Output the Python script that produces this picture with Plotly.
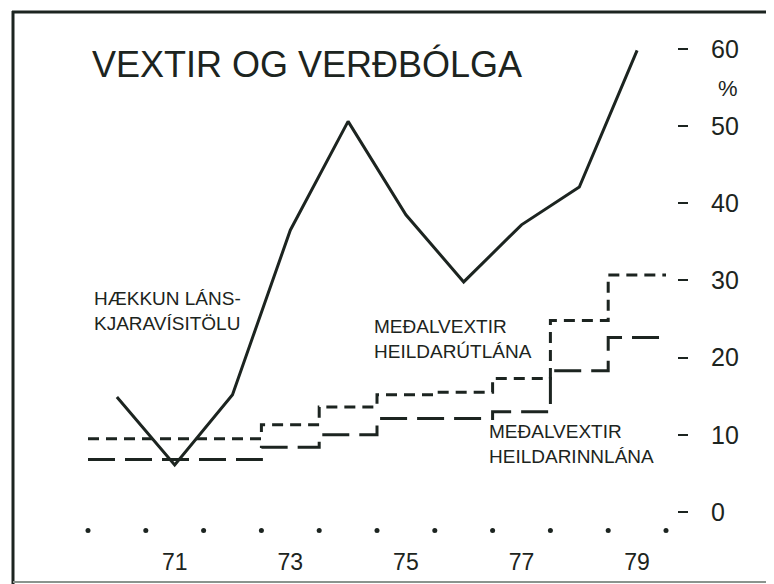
import plotly.graph_objects as go

# ---------------- data ----------------
years = [70, 71, 72, 73, 74, 75, 76, 77, 78, 79]
haekkun = [14.9, 6.1, 15.2, 36.5, 50.6, 38.5, 29.8, 37.2, 42.1, 59.8]   # Hækkun lánskjaravísitölu
utlan = [9.5, 9.5, 9.5, 11.3, 13.6, 15.2, 15.5, 17.3, 24.8, 30.7]       # Meðalvextir heildarútlána
innlan = [6.8, 6.8, 6.8, 8.4, 10.0, 12.1, 12.1, 13.0, 18.3, 22.6]       # Meðalvextir heildarinnlána
x_tick_vals = [71, 73, 75, 77, 79]
x_tick_text = ["71", "73", "75", "77", "79"]
y_tick_vals = [0, 10, 20, 30, 40, 50, 60]
y_tick_text = ["0", "10", "20", "30", "40", "50", "60"]

# ---------------- style / layout helpers ----------------
W, H = 774, 584
OFF = 8                    # page body margin that offsets the figure in the window
PLOT_BOTTOM = 540 - OFF    # figure pixel row where the plot area ends
INK = "#1c2420"
FONT = "Liberation Sans"
DOT_LEVEL = -2.4           # vertical level of the year-boundary dots

def px(x):
    """window pixel x -> paper x"""
    return (x - OFF) / W

def py(y):
    """window pixel y -> paper y"""
    return (PLOT_BOTTOM - (y - OFF)) / PLOT_BOTTOM

# year boundaries for step lines
edges = [y - 0.5 for y in years] + [years[-1] + 0.5]

fig = go.Figure()

# year boundary dots along the bottom
fig.add_trace(go.Scatter(
    x=edges, y=[DOT_LEVEL] * len(edges), mode="markers",
    marker=dict(size=5, color=INK), hoverinfo="skip", showlegend=False))

# Meðalvextir heildarútlána (short dashes)
fig.add_trace(go.Scatter(
    x=edges, y=utlan + [utlan[-1]], mode="lines", line_shape="hv",
    line=dict(color=INK, width=3, dash="11px,7px"),
    hoverinfo="skip", showlegend=False))

# Meðalvextir heildarinnlána (long dashes)
fig.add_trace(go.Scatter(
    x=edges, y=innlan + [innlan[-1]], mode="lines", line_shape="hv",
    line=dict(color=INK, width=3, dash="27px,10px"),
    hoverinfo="skip", showlegend=False))

# Hækkun lánskjaravísitölu (solid)
fig.add_trace(go.Scatter(
    x=years, y=haekkun, mode="lines",
    line=dict(color=INK, width=3),
    hoverinfo="skip", showlegend=False))

# x mapping (window px): pixel = 174.7 + (year-71)*57.8
x0 = 71 - (174.7 - OFF) / 57.8
x1 = x0 + W / 57.8
# y mapping (window px): pixel = 512 - 7.72*value
y_top = (512 - OFF) / 7.72
y_bot = (512 - OFF - PLOT_BOTTOM) / 7.72

common_y = dict(range=[y_bot, y_top], showgrid=False, zeroline=False,
                showline=False, tickmode="array", tickvals=y_tick_vals,
                fixedrange=True)

fig.update_layout(
    width=W, height=H,
    margin=dict(l=0, r=0, t=0, b=H - PLOT_BOTTOM, pad=0),
    paper_bgcolor="white", plot_bgcolor="white",
    showlegend=False, hovermode=False,
    font=dict(family=FONT, color=INK),
    xaxis=dict(
        range=[x0, x1], showgrid=False, zeroline=False, showline=False,
        tickmode="array", tickvals=x_tick_vals, ticktext=x_tick_text,
        ticks="", tickfont=dict(size=23, color=INK, family=FONT),
        ticklabelstandoff=6, fixedrange=True),
    # tick dashes
    yaxis=dict(
        **common_y, side="right", anchor="free", position=px(677),
        ticks="outside", ticklen=10, tickwidth=1.6, tickcolor=INK,
        showticklabels=False),
    # tick numbers
    yaxis2=dict(
        **common_y, side="right", anchor="free", position=px(710),
        overlaying="y", ticks="", ticktext=y_tick_text,
        tickfont=dict(size=25, color=INK, family=FONT)),
)

# invisible trace to activate the label axis
fig.add_trace(go.Scatter(x=[years[0]], y=[y_tick_vals[0]], yaxis="y2",
                         mode="markers", marker=dict(opacity=0),
                         hoverinfo="skip", showlegend=False))

# frame (scanned page border)
fig.add_shape(type="line", xref="paper", yref="paper",
              x0=px(13), x1=px(13), y0=py(11), y1=py(H + 2),
              line=dict(color=INK, width=3))
fig.add_shape(type="line", xref="paper", yref="paper",
              x0=px(12), x1=px(W + 10), y0=py(12), y1=py(12),
              line=dict(color=INK, width=3))
fig.add_shape(type="line", xref="paper", yref="paper",
              x0=px(13), x1=px(W + 10), y0=py(582), y1=py(582),
              line=dict(color="#8a948e", width=2))

def label(text, x, y, size, anchor="left"):
    fig.add_annotation(text=text, xref="paper", yref="paper",
                       x=px(x), y=py(y), xanchor=anchor, yanchor="middle",
                       align="left", showarrow=False,
                       font=dict(size=size, color=INK, family=FONT))

label("VEXTIR OG VERÐBÓLGA", 90, 64, 36)
label("%", 728, 88, 22, anchor="center")
label("HÆKKUN LÁNS-<br>KJARAVÍSITÖLU", 92, 311, 19)
label("MEÐALVEXTIR<br>HEILDARÚTLÁNA", 372, 339, 19)
label("MEÐALVEXTIR<br>HEILDARINNLÁNA", 487, 444, 19)

fig.write_html("out.html")
